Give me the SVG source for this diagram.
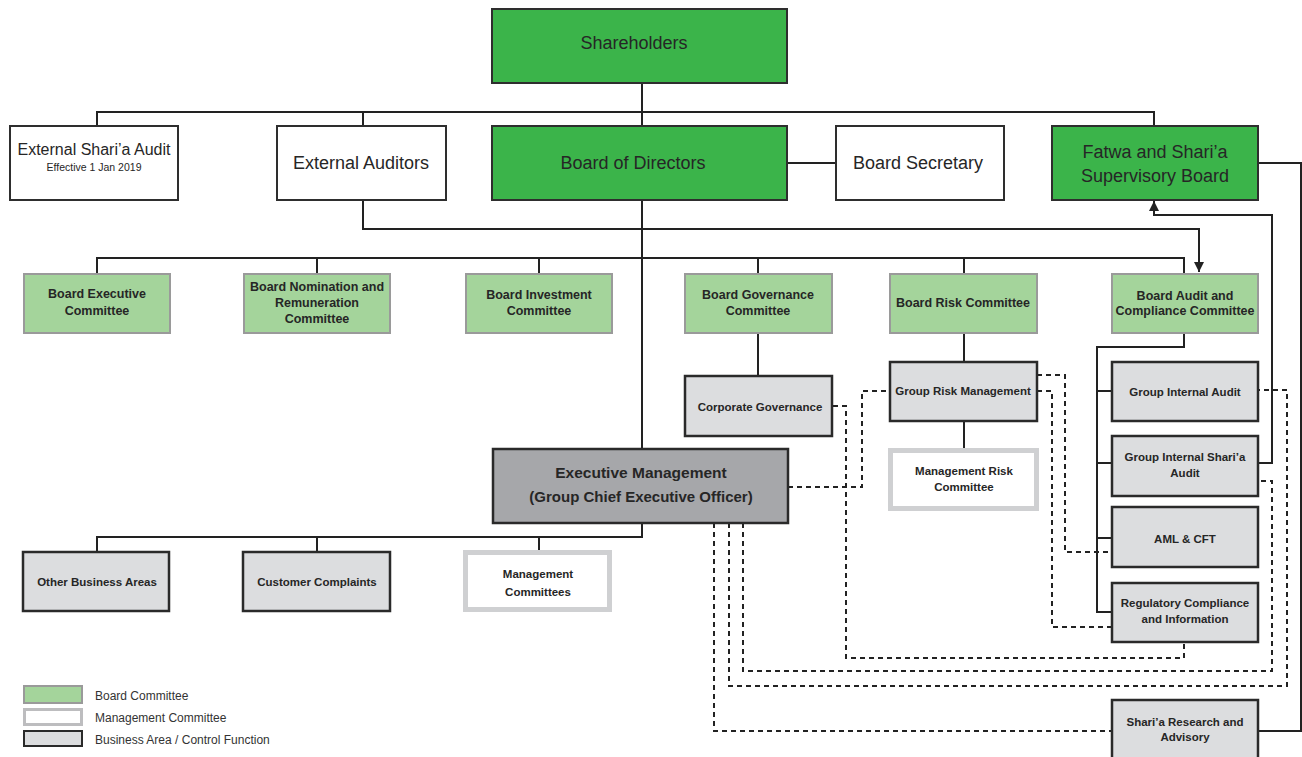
<svg xmlns="http://www.w3.org/2000/svg" width="1302" height="757" viewBox="0 0 1302 757">
<defs>
<style>
text{font-family:"Liberation Sans",Arial,sans-serif;fill:#262626;text-anchor:middle}
.big{font-size:18px}
.bb{font-size:12.5px;font-weight:bold}
.gb{font-size:11.5px;font-weight:bold}
.leg{font-size:12px;text-anchor:start;fill:#333}
.green{fill:#3bb44a;stroke:#2e2e2e;stroke-width:2}
.white{fill:#fff;stroke:#2e2e2e;stroke-width:2}
.bc{fill:#a4d49b;stroke:#9a9a9a;stroke-width:2}
.gray{fill:#dcdddf;stroke:#2a2a2a;stroke-width:2.5}
.exec{fill:#a6a7aa;stroke:#2a2a2a;stroke-width:2.5}
.mc{fill:#fff;stroke:#cfd0d2;stroke-width:5}
.ln{fill:none;stroke:#222;stroke-width:2}
.ds{fill:none;stroke:#222;stroke-width:2;stroke-dasharray:5 4}
</style>
<marker id="arr" viewBox="0 0 10 10" refX="10" refY="5" markerWidth="10" markerHeight="10" markerUnits="userSpaceOnUse" orient="auto">
<path d="M0,0 L10,5 L0,10 z" fill="#222"/>
</marker>
</defs>
<rect width="1302" height="757" fill="#fff"/>

<g id="connectors">
<path class="ln" d="M642,83 V126"/>
<path class="ln" d="M97,126 V112 H1154 V126"/>
<path class="ln" d="M363,112 V126"/>
<path class="ln" d="M787,163 H836"/>
<path class="ln" d="M363,200 V229 H1199 V272" marker-end="url(#arr)"/>
<path class="ln" d="M642,200 V449"/>
<path class="ln" d="M97,273 V258 H1184 V273"/>
<path class="ln" d="M317,258 V273 M539,258 V273 M758,258 V273 M964,258 V273"/>
<path class="ln" d="M758,333 V376"/>
<path class="ln" d="M964,333 V362"/>
<path class="ln" d="M964,421 V448"/>
<path class="ln" d="M1184,333 V347 H1097 V612 H1112"/>
<path class="ln" d="M1097,391 H1112 M1097,463 H1112 M1097,538 H1112"/>
<path class="ln" d="M1259,463 H1272 V215 H1154 V201" marker-end="url(#arr)"/>
<path class="ln" d="M1258,163 H1301 V731 H1259"/>
<path class="ln" d="M642,523 V537 H97 V552"/>
<path class="ln" d="M317,537 V552 M539,537 V550"/>
<path class="ds" d="M788,487 H862 V391 H890"/>
<path class="ds" d="M833,406 H846 V658 H1184 V642"/>
<path class="ds" d="M1037,375 H1065 V552 H1112"/>
<path class="ds" d="M1037,391 H1052 V627 H1112"/>
<path class="ds" d="M743,523 V671 H1272 V481 H1259"/>
<path class="ds" d="M729,523 V686 H1287 V390 H1259"/>
<path class="ds" d="M714,523 V731 H1112"/>
</g>

<g id="shareholders"><rect class="green" x="492" y="9" width="295" height="74"/><text class="big" x="634" y="49">Shareholders</text></g>
<g id="external-sharia-audit"><rect class="white" x="10" y="126" width="168" height="74"/><text x="94" y="155" style="font-size:16px">External Shari’a Audit</text><text x="94" y="171" style="font-size:10.5px">Effective 1 Jan 2019</text></g>
<g id="external-auditors"><rect class="white" x="277" y="126" width="169" height="74"/><text class="big" x="361" y="169">External Auditors</text></g>
<g id="board-of-directors"><rect class="green" x="492" y="126" width="295" height="74"/><text class="big" x="633" y="169">Board of Directors</text></g>
<g id="board-secretary"><rect class="white" x="836" y="126" width="168" height="74"/><text class="big" x="918" y="169">Board Secretary</text></g>
<g id="fatwa-board"><rect class="green" x="1052" y="126" width="206" height="74"/><text class="big" x="1155" y="158">Fatwa and Shari’a</text><text class="big" x="1155" y="182">Supervisory Board</text></g>

<g id="board-executive-committee"><rect class="bc" x="24" y="274" width="146" height="59"/><text class="bb" x="97" y="298">Board Executive</text><text class="bb" x="97" y="315">Committee</text></g>
<g id="board-nomination-committee"><rect class="bc" x="244" y="274" width="146" height="59"/><text class="bb" x="317" y="291">Board Nomination and</text><text class="bb" x="317" y="307">Remuneration</text><text class="bb" x="317" y="323">Committee</text></g>
<g id="board-investment-committee"><rect class="bc" x="466" y="274" width="146" height="59"/><text class="bb" x="539" y="299">Board Investment</text><text class="bb" x="539" y="315">Committee</text></g>
<g id="board-governance-committee"><rect class="bc" x="685" y="274" width="147" height="59"/><text class="bb" x="758" y="299">Board Governance</text><text class="bb" x="758" y="315">Committee</text></g>
<g id="board-risk-committee"><rect class="bc" x="890" y="274" width="147" height="59"/><text class="bb" x="963" y="307">Board Risk Committee</text></g>
<g id="board-audit-committee"><rect class="bc" x="1112" y="274" width="146" height="59"/><text class="bb" x="1185" y="300">Board Audit and</text><text class="bb" x="1185" y="315">Compliance Committee</text></g>

<g id="corporate-governance"><rect class="gray" x="685" y="376" width="147" height="60"/><text class="gb" x="760" y="411">Corporate Governance</text></g>
<g id="group-risk-management"><rect class="gray" x="890" y="362" width="147" height="59"/><text class="gb" x="963" y="395">Group Risk Management</text></g>
<g id="management-risk-committee"><rect class="mc" x="890.5" y="450.5" width="146" height="58"/><text class="gb" x="964" y="475">Management Risk</text><text class="gb" x="964" y="491">Committee</text></g>
<g id="group-internal-audit"><rect class="gray" x="1112" y="362" width="146" height="59"/><text class="gb" x="1185" y="396">Group Internal Audit</text></g>
<g id="group-internal-sharia-audit"><rect class="gray" x="1112" y="436" width="146" height="60"/><text class="gb" x="1185" y="461">Group Internal Shari’a</text><text class="gb" x="1185" y="477">Audit</text></g>
<g id="aml-cft"><rect class="gray" x="1112" y="507" width="146" height="60"/><text class="gb" x="1185" y="543">AML &amp; CFT</text></g>
<g id="regulatory-compliance"><rect class="gray" x="1112" y="583" width="146" height="59"/><text class="gb" x="1185" y="607">Regulatory Compliance</text><text class="gb" x="1185" y="623">and Information</text></g>
<g id="sharia-research"><rect class="gray" x="1112" y="700" width="146" height="62"/><text class="gb" x="1185" y="726">Shari’a Research and</text><text class="gb" x="1185" y="741">Advisory</text></g>

<g id="executive-management"><rect class="exec" x="493" y="449" width="295" height="74"/><text x="641" y="478" style="font-size:15.5px;font-weight:bold">Executive Management</text><text x="641" y="502" style="font-size:15px;font-weight:bold">(Group Chief Executive Officer)</text></g>

<g id="other-business-areas"><rect class="gray" x="23" y="552" width="146" height="59"/><text class="gb" x="97" y="586">Other Business Areas</text></g>
<g id="customer-complaints"><rect class="gray" x="243" y="552" width="147" height="59"/><text class="gb" x="317" y="586">Customer Complaints</text></g>
<g id="management-committees"><rect class="mc" x="465.5" y="552.5" width="144" height="57"/><text class="gb" x="538" y="578">Management</text><text class="gb" x="538" y="596">Committees</text></g>

<g id="legend">
<rect x="24" y="686" width="58" height="17" fill="#a4d49b" stroke="#9a9a9a" stroke-width="2"/>
<rect x="24.5" y="709.5" width="57" height="15" fill="#fff" stroke="#bdbdbf" stroke-width="3"/>
<rect x="24" y="731" width="58" height="15" fill="#dcdddf" stroke="#2a2a2a" stroke-width="2"/>
<text class="leg" x="95" y="700">Board Committee</text>
<text class="leg" x="95" y="722">Management Committee</text>
<text class="leg" x="95" y="744">Business Area / Control Function</text>
</g>
</svg>
